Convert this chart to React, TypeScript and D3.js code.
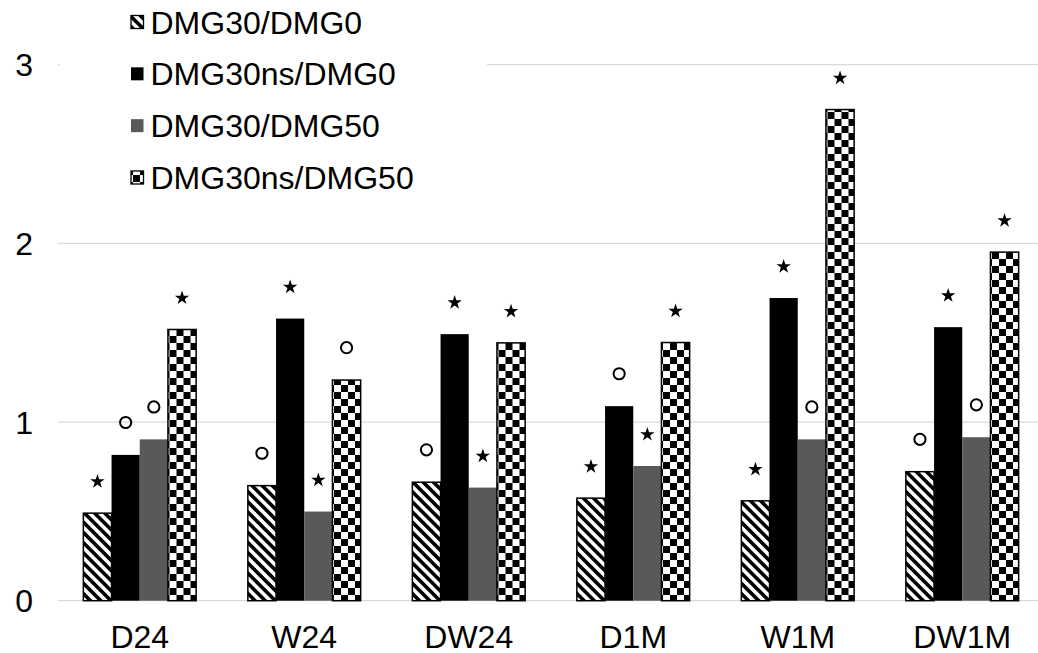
import React from 'react';
import * as d3 from 'd3';

const categories = ['D24', 'W24', 'DW24', 'D1M', 'W1M', 'DW1M'];
const seriesNames = ['DMG30/DMG0', 'DMG30ns/DMG0', 'DMG30/DMG50', 'DMG30ns/DMG50'];
const dmg30_dmg0 = [0.49, 0.644, 0.663, 0.574, 0.559, 0.722];
const dmg30ns_dmg0 = [0.816, 1.579, 1.492, 1.089, 1.694, 1.531];
const dmg30_dmg50 = [0.903, 0.499, 0.633, 0.754, 0.903, 0.915];
const dmg30ns_dmg50 = [1.518, 1.235, 1.443, 1.445, 2.749, 1.951];
const markers0 = ['star', 'circle', 'circle', 'star', 'star', 'circle'];
const markers1 = ['circle', 'star', 'star', 'circle', 'star', 'star'];
const markers2 = ['circle', 'star', 'star', 'star', 'circle', 'circle'];
const markers3 = ['star', 'circle', 'star', 'star', 'star', 'star'];
const yTicks = [0, 1, 2, 3];

const seriesValues = [dmg30_dmg0, dmg30ns_dmg0, dmg30_dmg50, dmg30ns_dmg50];
const seriesMarkers = [markers0, markers1, markers2, markers3];
const fills = ['url(#hatch)', '#000000', '#595959', 'url(#checker)'];
const strokes = ['#000', 'none', 'none', '#000'];

const W = 1038;
const H = 653;
const FONT = '"Liberation Sans", Arial, sans-serif';
const FS = 32;

export default function App() {
  const x0 = d3.scaleBand<string>().domain(categories).range([57.5, 1044.5]).padding(0);
  const x1 = d3
    .scaleBand<number>()
    .domain([0, 1, 2, 3])
    .range([0, x0.bandwidth()])
    .paddingInner(0)
    .paddingOuter(0.917);
  const y = d3.scaleLinear().domain([0, 3]).range([600.7, 64.7]);
  const star = d3.symbol().type(d3.symbolStar).size(64)() as string;
  const legendY = d3.scaleLinear().domain([0, 3]).range([22, 177.5]);

  return (
    <svg
      width={W}
      height={H}
      style={{ position: 'absolute', left: 0, top: 0, background: '#fff' }}
      fontFamily={FONT}
    >
      <defs>
        <pattern
          id="hatch"
          patternUnits="userSpaceOnUse"
          width={7.2}
          height={7.2}
          patternTransform="rotate(-45)"
        >
          <rect x={0} y={0} width={7.2} height={7.2} fill="#fff" />
          <rect x={0} y={0} width={3.6} height={7.2} fill="#000" />
        </pattern>
        <pattern id="checker" patternUnits="userSpaceOnUse" width={14} height={14}>
          <rect x={0} y={0} width={14} height={14} fill="#fff" />
          <rect x={0} y={0} width={7} height={7} fill="#000" />
          <rect x={7} y={7} width={7} height={7} fill="#000" />
        </pattern>
      </defs>
      <rect x={0} y={0} width={W} height={H} fill="#fff" />

      {/* gridlines */}
      {yTicks.map((t) => (
        <line
          key={t}
          x1={58}
          x2={1045}
          y1={y(t)}
          y2={y(t)}
          stroke="#d9d9d9"
          strokeWidth={1.3}
        />
      ))}

      {/* y tick labels */}
      {yTicks.map((t) => (
        <text key={t} x={33} y={y(t) + 11.5} fontSize={FS} textAnchor="end" fill="#000">
          {t}
        </text>
      ))}

      {/* bars */}
      {categories.map((c, ci) => (
        <g key={c} transform={`translate(${x0(c)},0)`}>
          {seriesValues.map((vals, si) => (
            <rect
              key={si}
              x={x1(si)}
              y={y(vals[ci])}
              width={x1.bandwidth()}
              height={y(0) - y(vals[ci])}
              fill={fills[si]}
              stroke={strokes[si]}
              strokeWidth={strokes[si] === 'none' ? 0 : 1.5}
            />
          ))}
        </g>
      ))}

      {/* significance markers */}
      {categories.map((c, ci) => (
        <g key={c} transform={`translate(${x0(c)},0)`}>
          {seriesValues.map((vals, si) => {
            const cx = (x1(si) as number) + x1.bandwidth() / 2;
            const cy = y(vals[ci]) - 32.4;
            return seriesMarkers[si][ci] === 'star' ? (
              <path key={si} d={star} transform={`translate(${cx},${cy + 0.9})`} fill="#000" />
            ) : (
              <circle key={si} cx={cx} cy={cy} r={5.6} fill="none" stroke="#000" strokeWidth={2} />
            );
          })}
        </g>
      ))}

      {/* x labels */}
      {categories.map((c) => (
        <text
          key={c}
          x={(x0(c) as number) + x0.bandwidth() / 2}
          y={647.5}
          fontSize={FS}
          textAnchor="middle"
          fill="#000"
        >
          {c}
        </text>
      ))}

      {/* legend */}
      <rect x={60} y={0} width={427} height={200} fill="#fff" />
      {seriesNames.map((n, i) => (
        <g key={n}>
          <rect
            x={131}
            y={legendY(i) - 6.5}
            width={12.5}
            height={13}
            fill={fills[i]}
            stroke={strokes[i] === 'none' ? 'none' : '#000'}
            strokeWidth={1.3}
          />
          <text x={150.5} y={legendY(i) + 11.5} fontSize={FS} fill="#000">
            {n}
          </text>
        </g>
      ))}
    </svg>
  );
}
